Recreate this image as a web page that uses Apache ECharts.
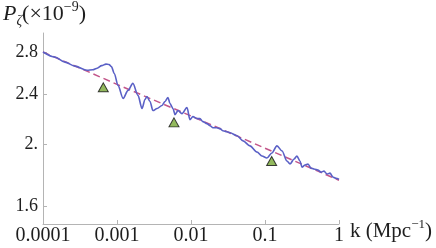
<!DOCTYPE html>
<html>
<head>
<meta charset="utf-8">
<script src="https://cdn.jsdelivr.net/npm/echarts@6/dist/echarts.min.js"></script>
<style>
  html, body { margin: 0; padding: 0; background: #fff; }
  #chart { width: 436px; height: 248px; }
</style>
</head>
<body>
<div id="chart"></div>
<script>
  // k (Mpc^-1) for the oscillating spectrum
  const kBlue = [1.00e-4, 1.45e-4, 1.98e-4, 2.70e-4, 3.94e-4, 4.70e-4, 5.40e-4, 6.20e-4, 7.10e-4, 7.80e-4, 8.40e-4, 9.20e-4,
    1.03e-3, 1.21e-3, 1.41e-3, 1.64e-3, 1.92e-3, 2.18e-3, 2.39e-3, 2.54e-3, 2.79e-3, 3.06e-3,
    3.48e-3, 4.06e-3, 4.46e-3, 4.89e-3, 5.20e-3, 5.71e-3, 6.08e-3, 6.67e-3, 7.55e-3, 8.83e-3,
    9.68e-3, 1.06e-2, 1.21e-2, 1.32e-2, 1.45e-2, 1.64e-2, 1.81e-2, 1.98e-2, 2.24e-2, 2.47e-2,
    2.70e-2, 3.06e-2, 3.37e-2, 4.19e-2, 5.05e-2, 6.26e-2, 7.80e-2, 9.10e-2, 0.106, 0.124,
    0.145, 0.170, 0.198, 0.218, 0.247, 0.270, 0.297, 0.316, 0.348, 0.381,
    0.419, 0.459, 0.520, 0.571, 0.627, 0.689, 0.755, 0.830, 0.910, 1.0]
  // P_zeta (x1e-9)
  const pBlue = [2.800, 2.749, 2.699, 2.660, 2.621, 2.625, 2.640, 2.665, 2.680, 2.676, 2.655, 2.590,
    2.481, 2.366, 2.436, 2.499, 2.392, 2.281, 2.357, 2.383, 2.340, 2.264,
    2.281, 2.306, 2.340, 2.374, 2.323, 2.281, 2.231, 2.264, 2.239, 2.289,
    2.191, 2.215, 2.199, 2.199, 2.175, 2.159, 2.143, 2.127, 2.127, 2.120,
    2.104, 2.096, 2.089, 2.066, 2.028, 1.992, 1.948, 1.920, 1.906, 1.941,
    1.992, 1.955, 1.885, 1.865, 1.899, 1.920, 1.885, 1.844, 1.858, 1.865,
    1.837, 1.831, 1.824, 1.811, 1.817, 1.798, 1.804, 1.778, 1.771, 1.765]

  // smooth power-law reference (dashed)
  const kDash = [1e-4, 1e-3, 1e-2, 1e-1, 1]
  const pDash = [2.80, 2.49, 2.22, 1.975, 1.758]

  // triangle markers
  const kTri = [6.53e-4, 5.89e-3, 0.123]
  const pTri = [2.463, 2.169, 1.885]

  const xTickLabels = ['0.0001', '0.001', '0.01', '0.1', '1']
  const yTicks = [1.6, 2, 2.4, 2.8]
  const yTickLabels = ['1.6', '2.', '2.4', '2.8']

  const zip = (a, b) => a.map((v, i) => [v, b[i]])
  const serif = '"Liberation Serif", "DejaVu Serif", serif'
  const axisGray = '#b4b4b4'
  const ink = '#1e1e1e'

  const chart = echarts.init(document.getElementById('chart'))
  chart.setOption({
    animation: false,
    title: {
      text: '{p|P}{z|ζ}{t|(×10}{s|−9}{t|)}',
      left: 3,
      top: 0,
      padding: 0,
      textStyle: {
        fontWeight: 'normal',
        rich: {
          p: { fontFamily: serif, fontStyle: 'italic', fontWeight: 'normal', fontSize: 22, color: ink, lineHeight: 28 },
          z: { fontFamily: serif, fontStyle: 'italic', fontWeight: 'normal', fontSize: 14, color: ink, verticalAlign: 'bottom', lineHeight: 28 },
          t: { fontFamily: serif, fontWeight: 'normal', fontSize: 22, color: ink, lineHeight: 28 },
          s: { fontFamily: serif, fontWeight: 'normal', fontSize: 14, color: ink, verticalAlign: 'top', lineHeight: 28 }
        }
      }
    },
    grid: { left: 43, right: 97, top: 33, bottom: 24 },
    xAxis: {
      type: 'log',
      logBase: 10,
      min: 1e-4,
      max: 1,
      name: '{t|k (Mpc}{s|−1}{t|)}',
      nameLocation: 'end',
      nameGap: 9,
      nameTextStyle: {
        align: 'left',
        verticalAlign: 'top',
        padding: [-6, 0, 0, 0],
        rich: {
          t: { fontFamily: serif, fontSize: 21, color: ink, lineHeight: 26 },
          s: { fontFamily: serif, fontSize: 13, color: ink, verticalAlign: 'top', lineHeight: 26 }
        }
      },
      axisLine: { lineStyle: { color: axisGray, width: 1 } },
      axisTick: { inside: true, length: 4, lineStyle: { color: axisGray } },
      splitLine: { show: false },
      minorTick: { show: false },
      axisLabel: {
        fontFamily: serif,
        fontSize: 20,
        color: ink,
        margin: 2,
        formatter: v => xTickLabels[Math.round(Math.log10(v)) + 4]
      }
    },
    yAxis: {
      type: 'log',
      logBase: 10,
      min: 1.5,
      max: 3,
      axisLine: { show: true, lineStyle: { color: axisGray, width: 1 } },
      axisTick: { show: true, inside: true, length: 4, lineStyle: { color: axisGray }, customValues: yTicks },
      splitLine: { show: false },
      axisLabel: {
        fontFamily: serif,
        fontSize: 18,
        color: ink,
        margin: 5,
        customValues: yTicks,
        formatter: v => {
          const i = yTicks.findIndex(t => Math.abs(t - v) < 1e-6)
          return i >= 0 ? yTickLabels[i] : ''
        }
      }
    },
    series: [
      {
        type: 'line',
        data: zip(kDash, pDash),
        showSymbol: false,
        lineStyle: { color: '#c3568a', width: 1.5, type: [7, 4] },
        z: 2
      },
      {
        type: 'line',
        data: zip(kBlue, pBlue),
        showSymbol: false,
        smooth: 0.3,
        smoothMonotone: 'x',
        lineStyle: { color: '#5a60c6', width: 1.6 },
        z: 3
      },
      {
        type: 'scatter',
        data: zip(kTri, pTri),
        symbol: 'triangle',
        symbolSize: [10, 9],
        itemStyle: { color: '#78a834', borderColor: '#111', borderWidth: 1 },
        z: 4
      }
    ]
  })
</script>
</body>
</html>
